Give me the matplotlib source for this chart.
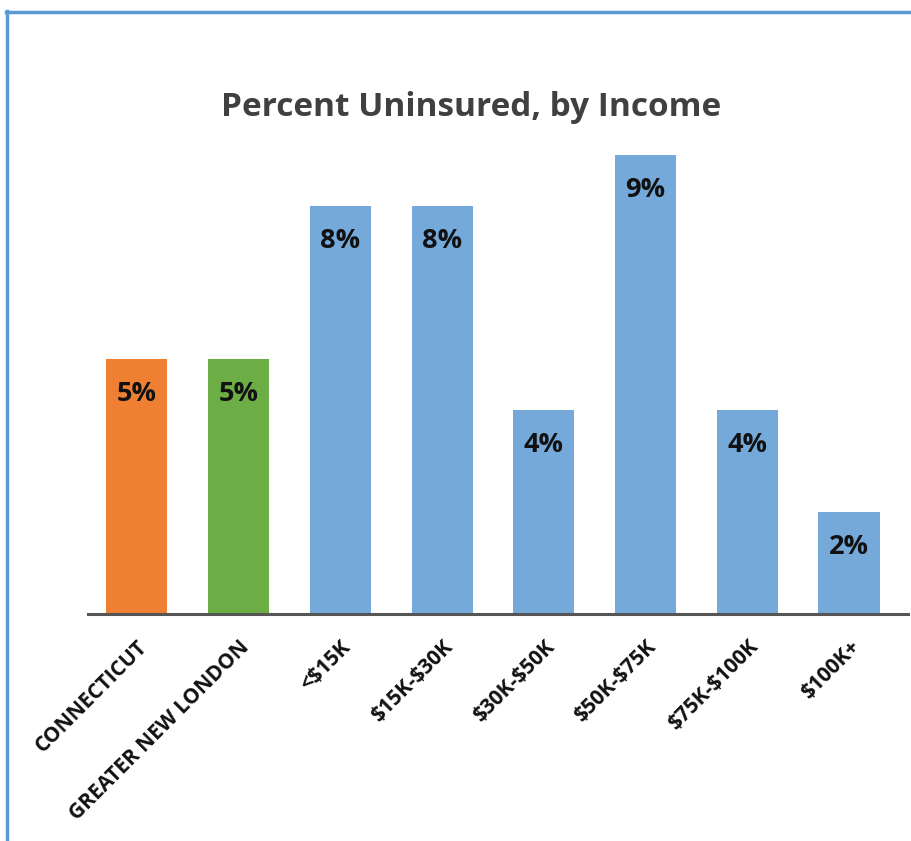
import matplotlib
matplotlib.use("Agg")
import matplotlib.pyplot as plt
from matplotlib.lines import Line2D

categories = ["CONNECTICUT", "GREATER NEW LONDON", "<$15K", "$15K-$30K",
              "$30K-$50K", "$50K-$75K", "$75K-$100K", "$100K+"]
values = [5, 5, 8, 8, 4, 9, 4, 2]
value_labels = ["5%", "5%", "8%", "8%", "4%", "9%", "4%", "2%"]
colors = ["#EE7F33", "#6DAD46", "#74A9DA", "#74A9DA", "#74A9DA",
          "#74A9DA", "#74A9DA", "#74A9DA"]
title = "Percent Uninsured, by Income"

plt.rcParams['font.family'] = ['Open Sans', 'DejaVu Sans']
plt.rcParams['text.parse_math'] = False

W, H = 911, 841
fig = plt.figure(figsize=(W / 100, H / 100), dpi=100)
fig.patch.set_facecolor("white")

ax = fig.add_axes([88 / W, 1 - 614 / H, (908 - 88) / W, (614 - 130) / H])
x = list(range(len(categories)))
ax.bar(x, values, width=0.6, color=colors, zorder=2)
ax.set_xlim(-0.48, 7.58)
ax.set_ylim(0, 9.49)

for xi, v, lab in zip(x, values, value_labels):
    ax.annotate(lab, (xi, v), xytext=(0, -25), textcoords="offset points",
                ha="center", va="center", fontsize=19.5, fontweight="bold",
                color="#111111")

for s in ["top", "right", "left"]:
    ax.spines[s].set_visible(False)
ax.spines["bottom"].set_color("#555555")
ax.spines["bottom"].set_linewidth(2.2)
ax.set_yticks([])
ax.set_xticks(x)
ax.set_xticklabels(categories, rotation=45, ha="right", rotation_mode="anchor",
                   fontsize=15, fontweight="bold", color="#111111")
ax.tick_params(axis="x", length=0, pad=16)

fig.text(471 / W, 1 - 108 / H, title, ha="center", va="center",
         fontsize=24, fontweight="bold", color="#404040")

# frame lines (left and top border)
fig.add_artist(Line2D([6.5 / W, 6.5 / W], [0, 1 - 10.5 / H], color="#5B9BD5",
                      linewidth=2.5, transform=fig.transFigure))
fig.add_artist(Line2D([5.5 / W, 1], [1 - 11.5 / H, 1 - 11.5 / H], color="#5B9BD5",
                      linewidth=2.5, transform=fig.transFigure))

fig.savefig("out.png", dpi=100, facecolor="white")
